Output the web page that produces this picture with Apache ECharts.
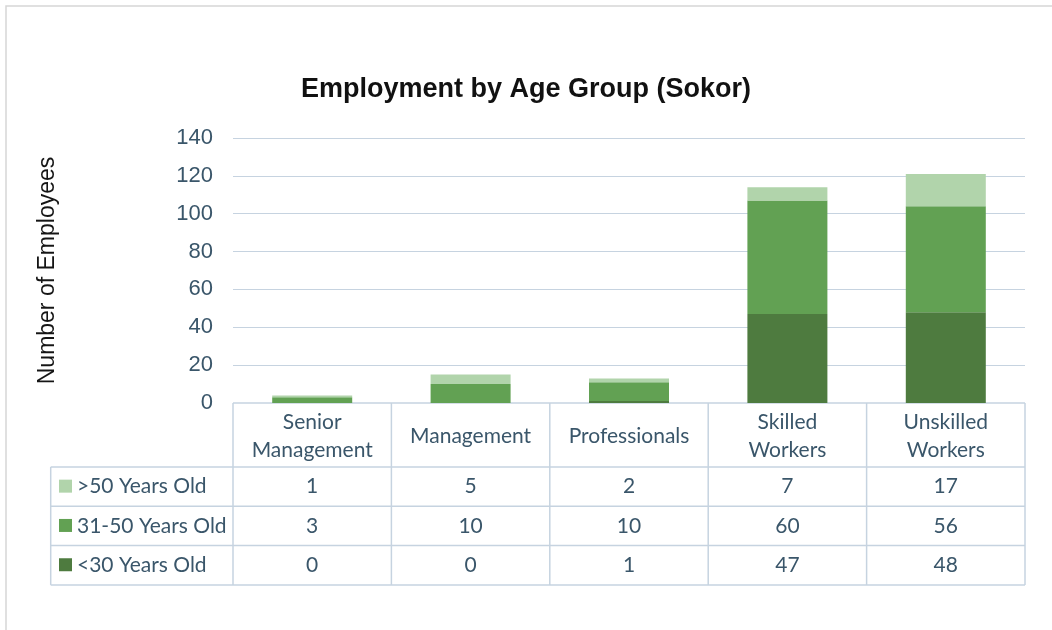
<!DOCTYPE html>
<html>
<head>
<meta charset="utf-8">
<title>Employment by Age Group (Sokor)</title>
<script src="https://cdn.jsdelivr.net/npm/echarts@6/dist/echarts.min.js"></script>
<style>
  html, body { margin: 0; padding: 0; background: #ffffff; }
  #chart { width: 1052px; height: 630px; }
</style>
</head>
<body>
<div id="chart"></div>
<script>
// Job categories along the x axis and their wrapped labels in the data table header
const categories = ['Senior Management', 'Management', 'Professionals', 'Skilled Workers', 'Unskilled Workers'];
const headerLabels = ['Senior\nManagement', 'Management', 'Professionals', 'Skilled\nWorkers', 'Unskilled\nWorkers'];

// Employees per age group (stacked bottom to top: <30, 31-50, >50)
const over50 = [1, 5, 2, 7, 17];
const age31to50 = [3, 10, 10, 60, 56];
const under30 = [0, 0, 1, 47, 48];

const seriesNames = ['>50 Years Old', '31-50 Years Old', '<30 Years Old'];
const seriesColors = ['#b1d4ab', '#62a153', '#4e7b3f'];

// Value axis ticks
const yMin = 0;
const yMax = 140;
const yStep = 20;

const textColor = '#3a566a';
const lineColor = '#c6d3e0';
const tableFont = 'Lato';

const chart = echarts.init(document.getElementById('chart'), null, { renderer: 'canvas' });

const option = {
  animation: false,
  backgroundColor: '#ffffff',
  title: {
    text: 'Employment by Age Group (Sokor)',
    left: 'center',
    top: 71,
    textStyle: {
      fontFamily: 'Liberation Sans',
      fontWeight: 'bold',
      fontSize: 27,
      color: '#111111'
    }
  },
  grid: { left: 233, right: 27, top: 138, bottom: 227, containLabel: false },
  xAxis: {
    type: 'category',
    data: categories,
    axisLine: { show: false },
    axisTick: { show: false },
    axisLabel: { show: false },
    splitLine: { show: false }
  },
  yAxis: {
    type: 'value',
    min: yMin,
    max: yMax,
    interval: yStep,
    name: 'Number of Employees',
    nameLocation: 'middle',
    nameGap: 174,
    nameRotate: 90,
    nameTextStyle: { fontFamily: 'Liberation Sans', fontSize: 23, color: '#151515' },
    axisLine: { show: false },
    axisTick: { show: false },
    axisLabel: { fontFamily: 'Liberation Sans', fontSize: 22, color: textColor, margin: 20 },
    splitLine: {
      show: true,
      lineStyle: { color: lineColor, width: 1.2 },
      showMinLine: false
    }
  },
  series: [
    { name: seriesNames[2], type: 'bar', stack: 'age', data: under30, barWidth: 80, itemStyle: { color: seriesColors[2] } },
    { name: seriesNames[1], type: 'bar', stack: 'age', data: age31to50, barWidth: 80, itemStyle: { color: seriesColors[1] } },
    { name: seriesNames[0], type: 'bar', stack: 'age', data: over50, barWidth: 80, itemStyle: { color: seriesColors[0] } }
  ]
};

chart.setOption(option);

// Data table under the plot, laid out from the category axis columns
function buildTable() {
  const rect = chart.getModel().getComponent('grid').coordinateSystem.getRect();
  const n = categories.length;
  const colW = rect.width / n;
  const top = chart.convertToPixel({ yAxisIndex: 0 }, yMin);
  const headerH = 64;
  const rowH = 39.3;
  const legendLeft = 50.7;
  const right = rect.x + rect.width;
  const rows = [over50, age31to50, under30];
  const headerBottom = top + headerH;
  const tableBottom = headerBottom + rows.length * rowH;

  const els = [];
  const line = (x1, y1, x2, y2) => els.push({
    type: 'line', silent: true,
    shape: { x1: x1, y1: y1, x2: x2, y2: y2 },
    style: { stroke: lineColor, lineWidth: 1.5 }
  });

  // Panel frame around the chart
  els.push({
    type: 'rect', silent: true,
    shape: { x: 6, y: 6, width: 1200, height: 800 },
    style: { fill: null, stroke: '#d6d6d6', lineWidth: 1.5 }
  });

  // Horizontal rules
  line(rect.x, top, right, top);
  line(legendLeft, headerBottom, right, headerBottom);
  for (let r = 1; r <= rows.length; r++) {
    line(legendLeft, headerBottom + r * rowH, right, headerBottom + r * rowH);
  }
  // Vertical rules
  line(legendLeft, headerBottom, legendLeft, tableBottom);
  for (let i = 0; i <= n; i++) {
    const x = rect.x + i * colW;
    line(x, top, x, tableBottom);
  }

  // Header: category names
  categories.forEach((c, i) => {
    const cx = chart.convertToPixel({ xAxisIndex: 0 }, c);
    els.push({
      type: 'text', silent: true,
      x: cx, y: top + headerH / 2 + 1,
      style: {
        text: headerLabels[i],
        fontFamily: tableFont, fontSize: 21, lineHeight: 28,
        fill: textColor, align: 'center', verticalAlign: 'middle'
      }
    });
  });

  // Rows: legend key, series name, values
  rows.forEach((vals, r) => {
    const cy = headerBottom + r * rowH + rowH / 2;
    els.push({
      type: 'rect', silent: true,
      shape: { x: 59, y: cy - 7, width: 13, height: 13 },
      style: { fill: seriesColors[r] }
    });
    els.push({
      type: 'text', silent: true,
      x: 77, y: cy,
      style: {
        text: seriesNames[r],
        fontFamily: tableFont, fontSize: 21,
        fill: textColor, align: 'left', verticalAlign: 'middle'
      }
    });
    vals.forEach((v, i) => {
      const cx = chart.convertToPixel({ xAxisIndex: 0 }, categories[i]);
      els.push({
        type: 'text', silent: true,
        x: cx, y: cy,
        style: {
          text: String(v),
          fontFamily: tableFont, fontSize: 21,
          fill: textColor, align: 'center', verticalAlign: 'middle'
        }
      });
    });
  });

  chart.setOption({ graphic: { elements: els } });
}

buildTable();
</script>
</body>
</html>
